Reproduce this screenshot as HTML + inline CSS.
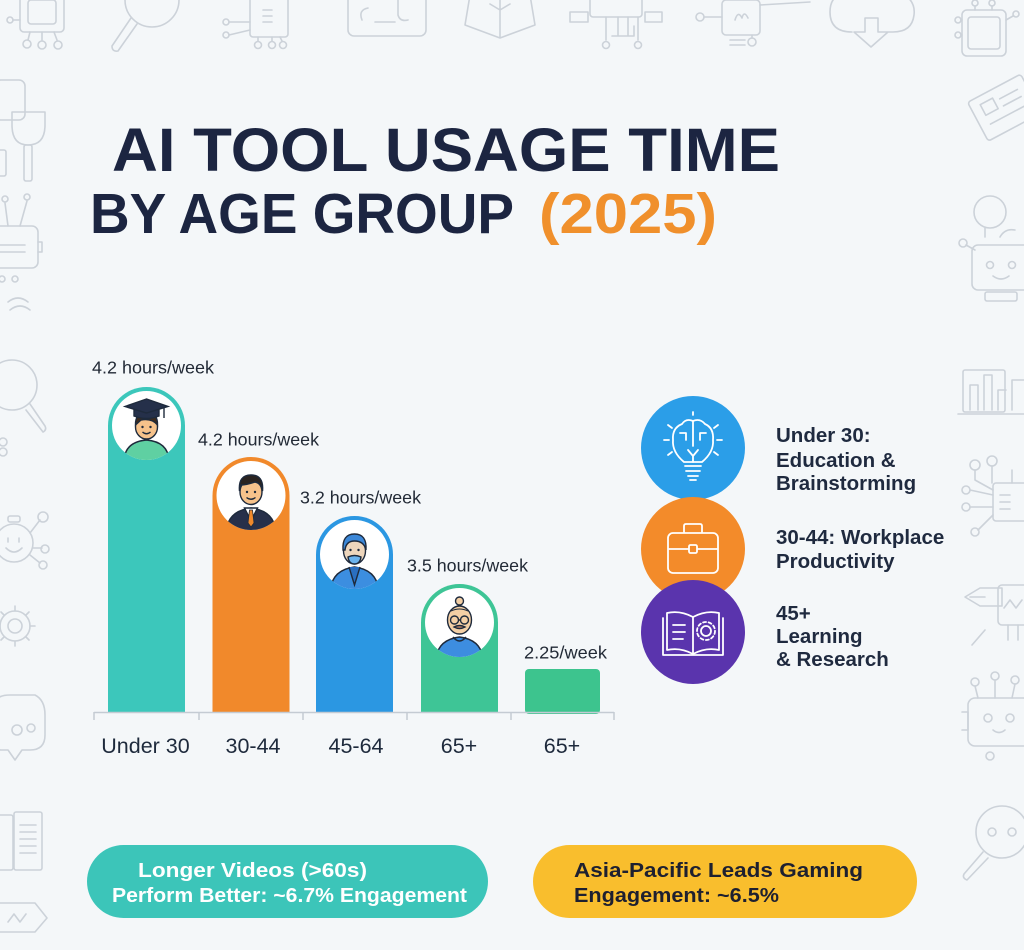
<!DOCTYPE html>
<html>
<head>
<meta charset="utf-8">
<style>
html,body{margin:0;padding:0;background:#f4f7f9;}
svg{display:block;font-family:"Liberation Sans",Arial,sans-serif;}
</style>
</head>
<body>
<svg width="1024" height="950" viewBox="0 0 1024 950" xmlns="http://www.w3.org/2000/svg">
<rect width="1024" height="950" fill="#f4f7f9"/>

<!-- faint background icons -->
<g fill="none" stroke="#ccd2d9" stroke-width="1.6" stroke-linecap="round" stroke-linejoin="round">
  <!-- top row -->
  <rect x="20" y="-8" width="44" height="40" rx="4"/>
  <rect x="28" y="0" width="28" height="24" rx="3"/>
  <path d="M30 32 L28 40 M42 32 L42 40 M54 32 L57 40"/>
  <circle cx="27" cy="44" r="4"/><circle cx="42" cy="45" r="4"/><circle cx="58" cy="45" r="4"/>
  <circle cx="10" cy="20" r="3"/><path d="M13 20 L20 20"/>
  <circle cx="152" cy="0" r="27"/>
  <path d="M131 18 L112 46 Q112 52 118 51 L137 24"/>
  <rect x="250" y="-5" width="38" height="42" rx="3"/>
  <path d="M263 10 L272 10 M263 16 L272 16 M263 22 L272 22 M229 22 L250 22 M229 35 L250 30 M258 37 L258 41 M272 37 L272 41 M280 37 L282 41"/>
  <circle cx="226" cy="22" r="3"/><circle cx="226" cy="35" r="3"/>
  <circle cx="258" cy="45" r="3.5"/><circle cx="272" cy="45" r="3.5"/><circle cx="283" cy="45" r="3.5"/>
  <rect x="348" y="-10" width="78" height="46" rx="6"/>
  <path d="M362 20 Q358 10 368 8 M398 0 L398 15 Q400 22 408 20 M375 22 L395 22"/>
  <path d="M465 25 L470 -5 L530 -5 L535 25 L500 38 Z M500 0 L500 38 M490 4 L500 10 L510 4"/>
  <rect x="590" y="-5" width="52" height="22" rx="3"/>
  <path d="M570 12 L588 12 L588 22 L570 22 Z M645 12 L662 12 L662 22 L645 22 Z M606 17 L606 40 M618 17 L618 36 M628 17 L628 36 M638 17 L638 40 M612 36 L634 36 L634 26"/>
  <circle cx="606" cy="45" r="3.5"/><circle cx="638" cy="45" r="3.5"/>
  <circle cx="700" cy="17" r="4"/><path d="M704 17 L722 17 M760 5 L810 2 M730 40 L745 40 M730 45 L745 45 M752 35 L752 38"/>
  <rect x="722" y="0" width="38" height="35" rx="4"/><circle cx="752" cy="42" r="4"/>
  <path d="M735 20 Q738 10 742 18 Q744 10 748 18"/>
  <path d="M852 32 Q830 32 830 12 Q830 -6 848 -8 L900 -8 Q916 0 914 15 Q912 32 893 32 L878 32 M865 32 L865 18 L878 18 L878 32 L888 32 L871 47 L854 32 Z"/>
  <rect x="962" y="10" width="44" height="46" rx="5"/>
  <rect x="968" y="17" width="32" height="32" rx="3"/>
  <circle cx="958" cy="20" r="3"/><circle cx="958" cy="35" r="3"/><circle cx="1016" cy="14" r="3"/>
  <circle cx="975" cy="3" r="3"/><circle cx="992" cy="3" r="3"/>
  <path d="M975 6 L975 10 M992 6 L992 10 M961 20 L962 20 M961 35 L962 35 M1013 16 L1006 20"/>

  <!-- left column -->
  <rect x="-5" y="80" width="30" height="40" rx="6"/>
  <path d="M12 112 L45 112 L45 125 Q45 145 28 145 Q12 145 12 125 Z"/>
  <rect x="24" y="145" width="8" height="36" rx="2"/>
  <rect x="-2" y="150" width="8" height="26" rx="2"/>
  <path d="M5 203 L8 226 M27 201 L20 226"/>
  <circle cx="5" cy="199" r="3"/><circle cx="27" cy="197" r="3"/>
  <rect x="-10" y="226" width="48" height="42" rx="6"/>
  <path d="M0 245 L25 245 M0 252 L25 252 M38 242 L42 242 L42 252 L38 252"/>
  <circle cx="2" cy="279" r="3"/><circle cx="15" cy="279" r="3"/>
  <path d="M8 302 Q18 294 28 302 M10 310 Q20 302 30 310"/>
  <circle cx="12" cy="385" r="25"/>
  <path d="M30 404 L45 426 Q47 430 43 432 L26 410"/>
  <circle cx="3" cy="442" r="4"/><circle cx="3" cy="452" r="4"/>
  <circle cx="14" cy="543" r="19"/>
  <path d="M6 548 Q14 556 22 548 M8 538 L8 542 M19 538 L19 542 M30 533 L40 520 M33 548 L42 548 M30 555 L40 563"/>
  <circle cx="43" cy="517" r="5"/><circle cx="45" cy="549" r="4"/><circle cx="43" cy="565" r="4"/>
  <rect x="8" y="516" width="12" height="6" rx="2"/>
  <circle cx="15" cy="626" r="15"/><circle cx="15" cy="626" r="7"/>
  <path d="M15 606 L15 611 M15 641 L15 646 M35 626 L30 626 M-5 626 L0 626 M29 612 L26 615 M29 640 L26 637 M1 612 L4 615 M1 640 L4 637"/>
  <path d="M-5 705 Q-5 695 10 695 L35 695 Q45 700 45 715 L45 735 Q45 750 30 750 L22 750 L15 760 L8 750 L0 750 Q-5 745 -5 735 Z"/>
  <circle cx="17" cy="730" r="5"/><circle cx="31" cy="728" r="4"/>
  <rect x="-5" y="815" width="18" height="55" rx="2"/>
  <rect x="14" y="812" width="28" height="58" rx="2"/>
  <path d="M20 825 L36 825 M20 832 L36 832 M20 839 L36 839 M20 846 L36 846 M20 853 L36 853"/>
  <path d="M-2 903 L35 903 L47 918 L35 932 L-2 932 M8 922 L14 914 L20 922 L26 914"/>

  <!-- right column -->
  <g transform="rotate(-28 1000 110)">
    <rect x="975" y="88" width="60" height="44" rx="3"/>
    <rect x="985" y="96" width="14" height="12"/>
    <path d="M1005 100 L1025 100 M1005 108 L1025 108 M985 118 L1025 118"/>
  </g>
  <circle cx="990" cy="212" r="16"/>
  <circle cx="963" cy="243" r="4"/>
  <path d="M966 245 L975 250 M985 237 L985 228 M1000 237 Q1005 228 1015 230"/>
  <rect x="972" y="245" width="60" height="45" rx="6"/>
  <circle cx="990" cy="265" r="3.5"/><circle cx="1012" cy="265" r="3.5"/>
  <path d="M993 276 Q1001 282 1009 276"/>
  <rect x="985" y="292" width="32" height="9" rx="2"/>
  <rect x="963" y="370" width="42" height="42" rx="2"/>
  <path d="M970 410 L970 385 L978 385 L978 410 M984 410 L984 375 L992 375 L992 410 M998 410 L998 390 L1006 390 M958 414 L1024 414 M1012 410 L1012 380 L1024 380"/>
  <circle cx="975" cy="465" r="5"/><circle cx="992" cy="461" r="5"/>
  <circle cx="966" cy="490" r="4"/><circle cx="966" cy="507" r="4"/><circle cx="975" cy="532" r="4"/>
  <rect x="993" y="483" width="40" height="38" rx="3"/>
  <path d="M975 470 L975 480 L993 490 M992 466 L992 483 M970 490 L993 495 M970 507 L993 507 M978 530 L993 515 M1000 495 L1010 495 M1000 502 L1010 502 M1000 509 L1010 509 M1012 483 L1012 470"/>
  <path d="M965 597 L980 588 L1002 588 L1002 606 L980 606 Z M970 597 L985 597"/>
  <rect x="998" y="585" width="36" height="40" rx="4"/>
  <path d="M1004 608 L1010 600 L1016 608 L1022 600 M1008 625 L1008 640 M1018 625 L1018 640 M985 630 L972 645"/>
  <circle cx="975" cy="682" r="4"/><circle cx="995" cy="676" r="4"/><circle cx="1015" cy="680" r="4"/>
  <path d="M975 686 L978 698 M995 680 L995 698 M1015 684 L1012 698"/>
  <rect x="968" y="698" width="62" height="48" rx="7"/>
  <circle cx="988" cy="718" r="4"/><circle cx="1010" cy="718" r="4"/>
  <path d="M993 730 Q999 735 1005 730 M962 712 L968 712 L968 730 L962 730"/>
  <circle cx="990" cy="756" r="4"/>
  <circle cx="1002" cy="832" r="26"/>
  <circle cx="992" cy="832" r="4"/><circle cx="1012" cy="832" r="4"/>
  <path d="M983 852 L964 874 Q962 878 967 880 L988 858"/>
</g>

<!-- Title -->
<text x="112" y="171" font-size="61" font-weight="bold" fill="#1c2541" textLength="668" lengthAdjust="spacingAndGlyphs">AI TOOL USAGE TIME</text>
<text x="90" y="233" font-size="57" font-weight="bold" fill="#1c2541" textLength="424" lengthAdjust="spacingAndGlyphs">BY AGE GROUP</text>
<text x="539" y="233" font-size="57" font-weight="bold" fill="#f0902c" textLength="178" lengthAdjust="spacingAndGlyphs">(2025)</text>

<!-- bars -->
<path d="M108 712 V425.5 A38.5 38.5 0 0 1 185 425.5 V712 Z" fill="#3cc7bb"/>
<path d="M212.5 712 V495.5 A38.5 38.5 0 0 1 289.5 495.5 V712 Z" fill="#f1892b"/>
<path d="M316 712 V554.5 A38.5 38.5 0 0 1 393 554.5 V712 Z" fill="#2b97e2"/>
<path d="M421 712 V622.5 A38.5 38.5 0 0 1 498 622.5 V712 Z" fill="#3ec596"/>
<rect x="525" y="669" width="75" height="45" rx="4" fill="#3dc48e"/>

<!-- axis -->
<g stroke="#c4cbd3" stroke-width="1.5">
  <line x1="94" y1="712.5" x2="614" y2="712.5"/>
  <line x1="94" y1="712" x2="94" y2="720"/>
  <line x1="199" y1="712" x2="199" y2="720"/>
  <line x1="303" y1="712" x2="303" y2="720"/>
  <line x1="407" y1="712" x2="407" y2="720"/>
  <line x1="511" y1="712" x2="511" y2="720"/>
  <line x1="614" y1="712" x2="614" y2="720"/>
</g>

<g font-size="21.5" fill="#1e2a3c" text-anchor="middle">
  <text x="145.5" y="753">Under 30</text>
  <text x="253" y="753">30-44</text>
  <text x="356" y="753">45-64</text>
  <text x="459" y="753">65+</text>
  <text x="562" y="753">65+</text>
</g>

<!-- value labels -->
<g font-size="17.5" fill="#222a36">
  <text x="92" y="373.5" textLength="122" lengthAdjust="spacingAndGlyphs">4.2 hours/week</text>
  <text x="198" y="445.5" textLength="121" lengthAdjust="spacingAndGlyphs">4.2 hours/week</text>
  <text x="300" y="503.5" textLength="121" lengthAdjust="spacingAndGlyphs">3.2 hours/week</text>
  <text x="407" y="571.5" textLength="121" lengthAdjust="spacingAndGlyphs">3.5 hours/week</text>
  <text x="524" y="658.5" textLength="83" lengthAdjust="spacingAndGlyphs">2.25/week</text>
</g>

<defs>
  <clipPath id="c1"><circle cx="146.5" cy="425.5" r="34.5"/></clipPath>
  <clipPath id="c2"><circle cx="251" cy="495.5" r="34.5"/></clipPath>
  <clipPath id="c3"><circle cx="354.5" cy="554.5" r="34.5"/></clipPath>
  <clipPath id="c4"><circle cx="459.5" cy="622.5" r="34.5"/></clipPath>
</defs>

<!-- avatar 1 -->
<circle cx="146.5" cy="425.5" r="34.5" fill="#ffffff"/>
<g clip-path="url(#c1)" stroke="#1e2a3c" stroke-width="1.4">
  <path d="M124 462 Q124 442 146.5 440 Q169 442 169 462 Z" fill="#5fd0a2"/>
  <ellipse cx="146.5" cy="427" rx="11" ry="12" fill="#f6c28b"/>
  <path d="M135.5 425 Q135 413 146.5 413 Q158 413 157.5 425 Q152 418 141 420 Z" fill="#3b2a1e"/>
  <path d="M134 409 L134 416 Q146.5 421 159 416 L159 409 Z" fill="#25304a"/>
  <polygon points="146.5,399 125,406.5 146.5,413 168,406.5" fill="#25304a"/>
  <path d="M164 407 L164 418" fill="none"/>
  <circle cx="142.5" cy="427" r="1.2" fill="#1e2a3c" stroke="none"/>
  <circle cx="150.5" cy="427" r="1.2" fill="#1e2a3c" stroke="none"/>
  <path d="M142.5 432 Q146.5 435.5 150.5 432" fill="none"/>
</g>

<!-- avatar 2 -->
<circle cx="251" cy="495.5" r="34.5" fill="#ffffff"/>
<g clip-path="url(#c2)" stroke="#1e2a3c" stroke-width="1.4">
  <path d="M226 535 Q226 511 251 508 Q276 511 276 535 Z" fill="#27304a"/>
  <path d="M244.5 508 L251 521 L257.5 508 Z" fill="#ffffff"/>
  <path d="M249.5 510 L252.5 510 L254 523 L251 527 L248 523 Z" fill="#f0892b" stroke-width="0.8"/>
  <ellipse cx="251" cy="492" rx="11" ry="12.5" fill="#f6c28b"/>
  <path d="M239.5 491 Q238 475 251 475 Q264 475 262.5 491 Q261 483 255 482 Q246 485 241 485 Z" fill="#2a2320"/>
  <circle cx="247" cy="492" r="1.2" fill="#1e2a3c" stroke="none"/>
  <circle cx="255" cy="492" r="1.2" fill="#1e2a3c" stroke="none"/>
  <path d="M246.5 497.5 Q251 501 255.5 497.5" fill="none"/>
</g>

<!-- avatar 3 -->
<circle cx="354.5" cy="554.5" r="34.5" fill="#ffffff"/>
<g clip-path="url(#c3)" stroke="#1e2a3c" stroke-width="1.4">
  <path d="M330 595 Q330 570 354.5 567 Q379 570 379 595 Z" fill="#3c8ee0"/>
  <path d="M349 567 L354.5 585 L360 567" fill="#2a6fc0"/>
  <ellipse cx="354.5" cy="551" rx="11" ry="13" fill="#eed6bc"/>
  <path d="M343 550 Q342 534 354.5 534 Q367 534 366 550 Q364 541 354.5 541 Q346 541 345 550 Z" fill="#3b87d8"/>
  <path d="M348 557 Q354.5 554 361 557 Q360 564 354.5 564 Q349 564 348 557 Z" fill="#6bb3ee"/>
  <circle cx="350.5" cy="550" r="1.2" fill="#1e2a3c" stroke="none"/>
  <circle cx="358.5" cy="550" r="1.2" fill="#1e2a3c" stroke="none"/>
</g>

<!-- avatar 4 -->
<circle cx="459.5" cy="622.5" r="34.5" fill="#ffffff"/>
<g clip-path="url(#c4)" stroke="#1e2a3c" stroke-width="1.4">
  <path d="M436 662 Q436 640 459.5 637 Q483 640 483 662 Z" fill="#3d8de0"/>
  <path d="M453 637 Q459.5 645 466 637" fill="none"/>
  <circle cx="459.5" cy="601" r="4" fill="#f3cfa5"/>
  <ellipse cx="459.5" cy="620" rx="12" ry="14" fill="#f3cfa5"/>
  <path d="M451 611 Q459.5 607 468 611" fill="none" stroke-width="1"/>
  <circle cx="454.5" cy="620" r="4" fill="none"/>
  <circle cx="464.5" cy="620" r="4" fill="none"/>
  <path d="M458.5 620 L460.5 620" fill="none"/>
  <path d="M454 627 Q459.5 624 465 627 Q459.5 630 454 627 Z" fill="#c98a6a"/>
</g>

<!-- legend circles -->
<circle cx="693" cy="448" r="52" fill="#2b9ee8"/>
<circle cx="693" cy="549" r="52" fill="#f38b2a"/>
<circle cx="693" cy="632" r="52" fill="#5a34ad"/>

<!-- brain bulb icon -->
<g fill="none" stroke="#ffffff" stroke-width="1.8" stroke-linecap="round" stroke-linejoin="round">
  <path d="M684 462 Q672 452 673 440 Q672 428 682 424 Q686 418 693 421 Q700 418 705 424 Q714 428 713 440 Q714 452 702 462 Z"/>
  <path d="M693 421 L693 446 M680 433 L686 433 L686 440 M706 433 L700 433 L700 440"/>
  <path d="M688 450 L693 456 L698 450 M693 456 L693 462"/>
  <path d="M685 466 L701 466 M686 471 L700 471 M688 476 L698 476 M690 480 L696 480"/>
  <path d="M664 440 L669 440 M717 440 L722 440 M668 425 L672 428 M718 425 L714 428 M668 455 L672 452 M718 455 L714 452 M693 412 L693 415"/>
</g>
<!-- briefcase icon -->
<g fill="none" stroke="#ffffff" stroke-width="1.8" stroke-linejoin="round">
  <rect x="668" y="533" width="50" height="40" rx="5"/>
  <path d="M684 533 L684 526 Q684 524 686 524 L700 524 Q702 524 702 526 L702 533"/>
  <path d="M668 549 L689 549 M697 549 L718 549"/>
  <rect x="689" y="545" width="8" height="8" rx="1.5"/>
</g>
<!-- book icon -->
<g fill="none" stroke="#ffffff" stroke-width="1.8" stroke-linejoin="round" stroke-linecap="round">
  <path d="M693 617 Q680 610 667 613 L667 650 Q680 647 693 654 Q706 647 719 650 L719 613 Q706 610 693 617 Z"/>
  <path d="M693 617 L693 654 M663 618 L663 655 L723 655 L723 618"/>
  <path d="M673 625 L685 625 M673 632 L685 632 M673 639 L683 639"/>
  <circle cx="706" cy="631" r="5"/>
  <circle cx="706" cy="631" r="9" stroke-dasharray="3 2.6"/>
</g>

<!-- legend text -->
<g font-size="20.5" font-weight="bold" fill="#1f2a3f">
  <text x="776" y="442">Under 30:</text>
  <text x="776" y="467">Education &amp;</text>
  <text x="776" y="490">Brainstorming</text>
  <text x="776" y="544">30-44: Workplace</text>
  <text x="776" y="568">Productivity</text>
  <text x="776" y="620">45+</text>
  <text x="776" y="643">Learning</text>
  <text x="776" y="666">&amp; Research</text>
</g>

<!-- bottom pills -->
<rect x="87" y="845" width="401" height="73" rx="36.5" fill="#3cc5b9"/>
<rect x="533" y="845" width="384" height="73" rx="36.5" fill="#f9be2d"/>
<g font-size="20" font-weight="bold">
  <text x="138" y="877" fill="#ffffff" textLength="229" lengthAdjust="spacingAndGlyphs">Longer Videos (&gt;60s)</text>
  <text x="112" y="902" fill="#ffffff" textLength="355" lengthAdjust="spacingAndGlyphs">Perform Better: ~6.7% Engagement</text>
  <text x="574" y="877" fill="#1e2030" textLength="289" lengthAdjust="spacingAndGlyphs">Asia-Pacific Leads Gaming</text>
  <text x="574" y="902" fill="#1e2030" textLength="205" lengthAdjust="spacingAndGlyphs">Engagement: ~6.5%</text>
</g>
</svg>
</body>
</html>
